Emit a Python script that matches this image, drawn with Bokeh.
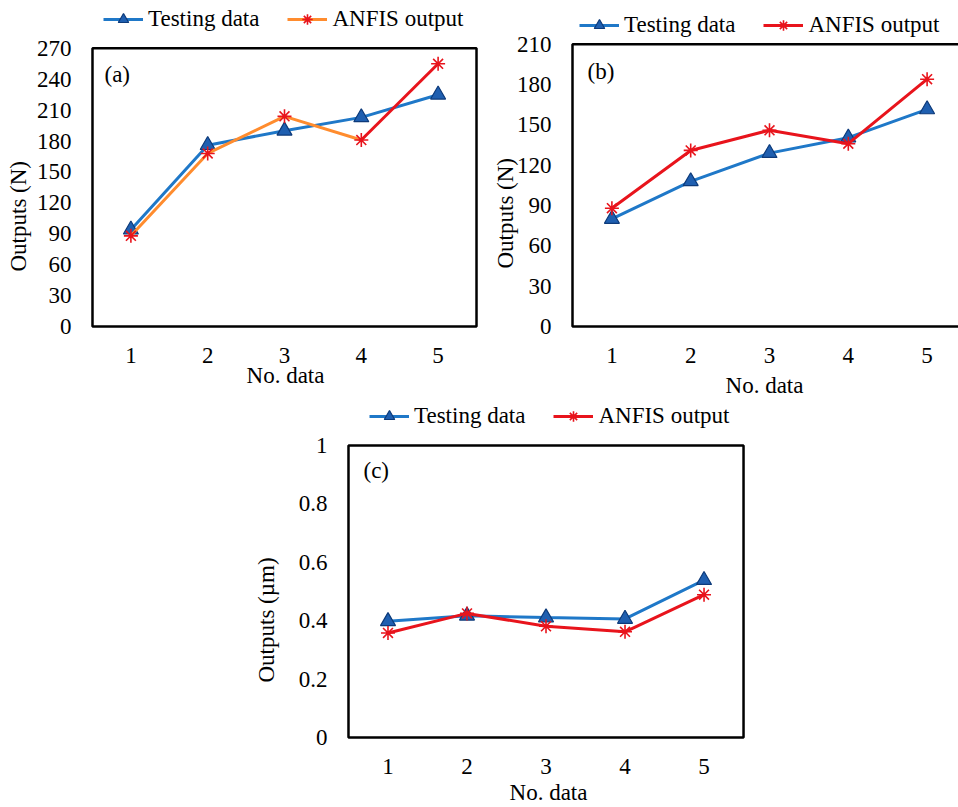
from bokeh.plotting import figure
from bokeh.layouts import column, row
from bokeh.models import Range1d, FixedTicker, Legend, LegendItem, Label, Spacer, Title
from bokeh.embed import file_html
from bokeh.resources import INLINE

# ---- data ----
x_data = [1, 2, 3, 4, 5]
a_testing = [94, 176, 190, 203, 225]
a_anfis = [88, 168, 204, 181, 255]
b_testing = [80, 108, 129, 140.5, 161.5]
b_anfis = [88, 131, 146, 136, 184]
c_testing = [0.398, 0.417, 0.411, 0.406, 0.539]
c_anfis = [0.358, 0.425, 0.381, 0.362, 0.489]
a_yticks = [0, 30, 60, 90, 120, 150, 180, 210, 240, 270]
b_yticks = [0, 30, 60, 90, 120, 150, 180, 210]
c_yticks = [0, 0.2, 0.4, 0.6, 0.8, 1]
c_ylabels = {0: "0", 0.2: "0.2", 0.4: "0.4", 0.6: "0.6", 0.8: "0.8", 1: "1"}

FONT = "Liberation Serif"
FS = "23px"
BLUE = "#1f78c8"
TRI_FILL = "#1f5fb0"
TRI_LINE = "#0d3a7a"
RED = "#e8141c"
ORANGE = "#ff8c2e"
PAD = 2  # px between frame edge and drawn box


def make_panel(w, h, box_left, box_top, box_bottom, xpx, yticks, ylabel, tag,
               testing, anfis, orange_part, leg_loc, tag_loc, title_off,
               title_standoff, xlab_standoff, ylabel_overrides=None):
    ymax_box = yticks[-1]
    ypx = (box_bottom - box_top) / ymax_box          # px per data unit
    frame_left = box_left - PAD
    frame_bottom = box_bottom + PAD
    x0 = x_data[0] - 0.5
    x_range = Range1d(x0 - PAD / xpx, x0 + (w - box_left) / xpx)
    y_range = Range1d(-PAD / ypx, box_bottom / ypx)
    p = figure(width=w, height=h, output_backend="svg", toolbar_location=None,
               x_range=x_range, y_range=y_range,
               min_border_left=frame_left, min_border_right=0,
               min_border_top=0, min_border_bottom=h - frame_bottom)
    p.xgrid.visible = False
    p.ygrid.visible = False
    p.outline_line_color = None
    p.background_fill_color = "white"
    p.border_fill_color = "white"
    for ax in (p.xaxis[0], p.yaxis[0]):
        ax.axis_line_color = None
        ax.major_tick_line_color = None
        ax.minor_tick_line_color = None
        ax.major_tick_out = 0
        ax.major_tick_in = 0
        ax.minor_tick_out = 0
        ax.major_label_text_font = FONT
        ax.major_label_text_font_size = FS
        ax.major_label_text_color = "black"
        ax.axis_label_text_font = FONT
        ax.axis_label_text_font_size = FS
        ax.axis_label_text_font_style = "normal"
        ax.axis_label_text_color = "black"
    p.xaxis.ticker = FixedTicker(ticks=x_data)
    p.yaxis.ticker = FixedTicker(ticks=yticks)
    if ylabel_overrides:
        p.yaxis.major_label_overrides = ylabel_overrides
    p.xaxis.axis_label = "No. data"
    p.yaxis.major_label_standoff = 19
    p.xaxis.major_label_standoff = 19
    p.xaxis.axis_label_standoff = xlab_standoff

    # y axis title, anchored at the bottom of the frame
    p.add_layout(Title(text=ylabel, align="left", offset=title_off,
                       standoff=title_standoff, text_font=FONT,
                       text_font_size=FS, text_font_style="normal",
                       text_color="black"), "left")

    # plot-area box
    p.quad(left=[x0], right=[x_data[-1] + 0.5], bottom=[0], top=[ymax_box],
           fill_color=None, line_color="black", line_width=2.5)

    l1 = p.line(x_data, testing, line_color=BLUE, line_width=3)
    m1 = p.scatter(x_data, testing, marker="triangle", size=15,
                   fill_color=TRI_FILL, line_color=TRI_LINE, line_width=1.2)
    if orange_part:
        l2 = p.line(x_data[:4], anfis[:4], line_color=ORANGE, line_width=3)
        p.line(x_data[3:], anfis[3:], line_color=RED, line_width=3)
    else:
        l2 = p.line(x_data, anfis, line_color=RED, line_width=3)
    m2 = p.scatter(x_data, anfis, marker="asterisk", size=14,
                   line_color=RED, line_width=1.6)

    legend = Legend(items=[LegendItem(label="Testing data", renderers=[l1, m1]),
                           LegendItem(label="ANFIS output", renderers=[l2, m2])],
                    orientation="horizontal", location=leg_loc,
                    padding=0, margin=0, spacing=28, glyph_width=40,
                    glyph_height=26, label_height=26, label_standoff=5,
                    border_line_color=None, background_fill_alpha=0,
                    label_text_font=FONT, label_text_font_size=FS,
                    label_text_color="black")
    p.add_layout(legend, "center")
    p.add_layout(Label(x=tag_loc[0], y=tag_loc[1], x_units="screen", y_units="screen",
                       text=tag, text_font=FONT, text_font_size=FS,
                       text_baseline="middle", text_color="black"))
    return p


pa = make_panel(480, 400, 91, 48, 327, 77.0, a_yticks, "Outputs (N)", "(a)",
                a_testing, a_anfis, True, (13, 296), (14, 254), 57, 6, -3)
pb = make_panel(478, 400, 92, 44, 328, 78.8, b_yticks, "Outputs (N)", "(b)",
                b_testing, b_anfis, False, (9, 290), (17, 257), 60, -8, 7)
pc = make_panel(516, 407, 112, 45, 337, 79.4, c_yticks, "Outputs (µm)", "(c)",
                c_testing, c_anfis, False, (23, 310), (17, 269), 57, 34, 3,
                ylabel_overrides=c_ylabels)

layout = column(row(pa, pb, spacing=0),
                row(Spacer(width=234, height=407), pc, spacing=0), spacing=0)

open("out.html", "w").write(file_html(layout, INLINE))
